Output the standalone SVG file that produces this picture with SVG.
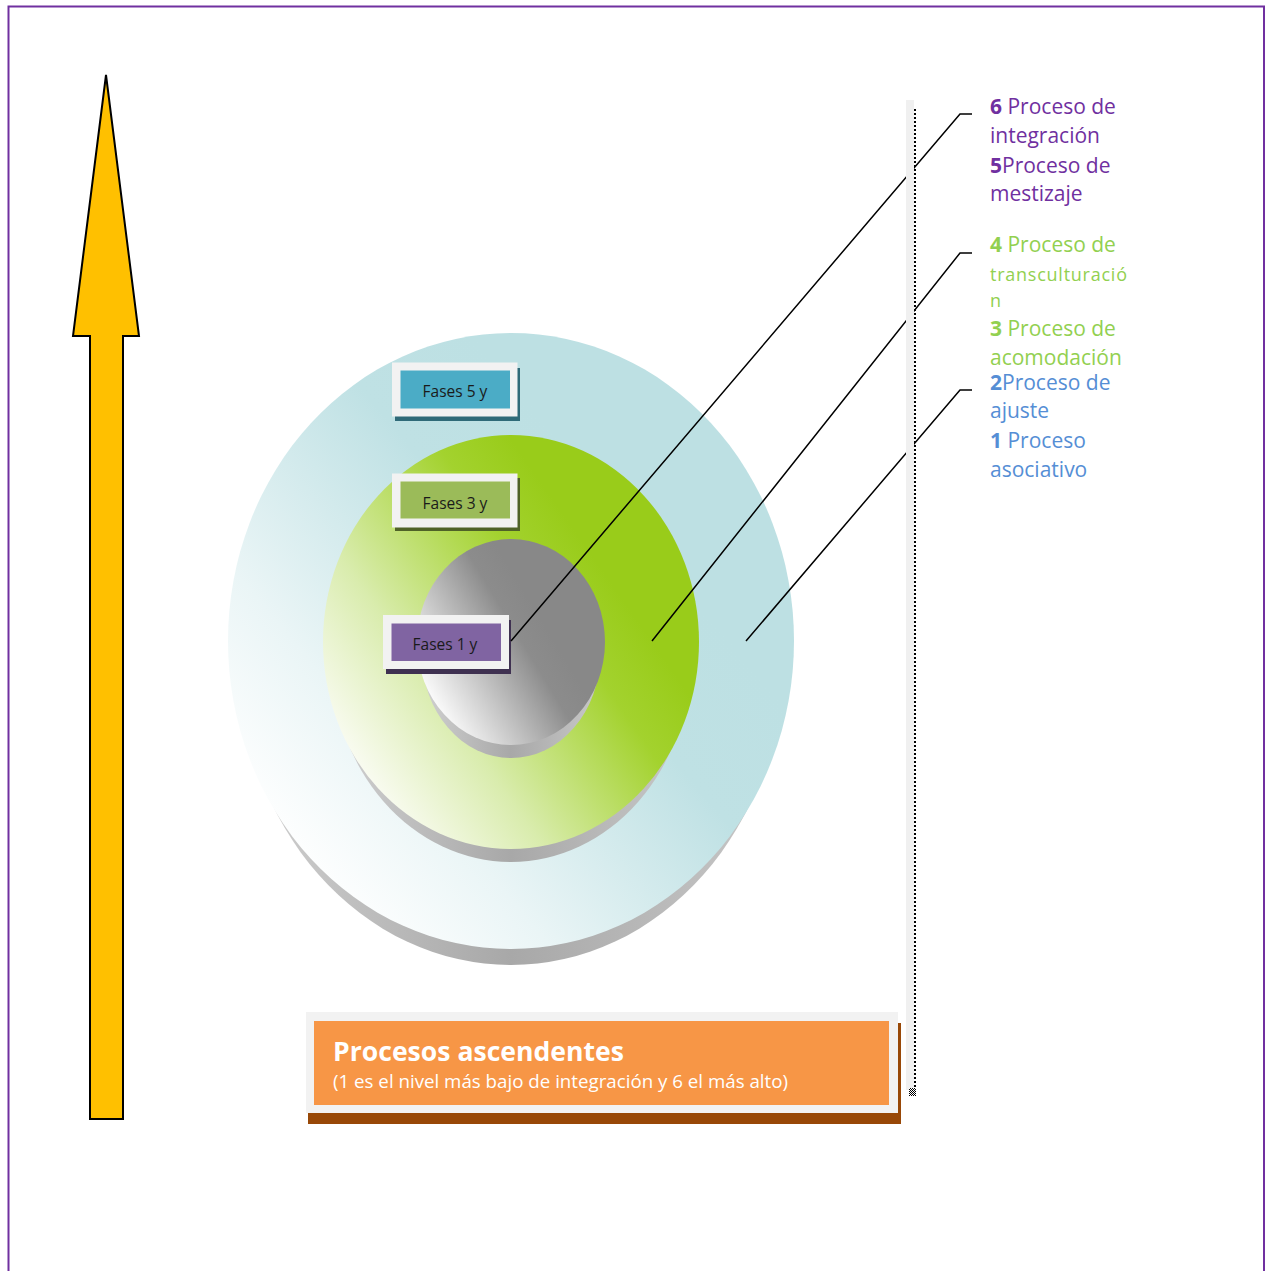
<svg xmlns="http://www.w3.org/2000/svg" width="1265" height="1271" viewBox="0 0 1265 1271">
<style>
.fr{fill:#f2f2f2}
.lt{font-family:"Open Sans","Liberation Sans",sans-serif;font-size:15.5px;fill:#1a1a1a;text-anchor:middle}
.rt{font-family:"Open Sans","Liberation Sans",sans-serif;font-size:21px}
.pu{fill:#7030a0}.gr{fill:#92d050}.bl{fill:#558ed5}
.b{font-weight:bold}
.con{stroke:#000;stroke-width:1.5;fill:none}
</style>
<defs>
<linearGradient id="gOuter" x1="0.15" y1="0.9" x2="0.75" y2="0.35">
<stop offset="0" stop-color="#ffffff"/><stop offset="0.3" stop-color="#eaf5f6"/><stop offset="0.75" stop-color="#bfe1e4"/><stop offset="1" stop-color="#bde0e3"/>
</linearGradient>
<linearGradient id="gMid" x1="0.15" y1="0.9" x2="0.8" y2="0.4">
<stop offset="0" stop-color="#fbfcf5"/><stop offset="0.35" stop-color="#d9ecad"/><stop offset="0.8" stop-color="#a3d22e"/><stop offset="1" stop-color="#99cc1a"/>
</linearGradient>
<linearGradient id="gIn" x1="0.1" y1="0.85" x2="0.7" y2="0.45">
<stop offset="0" stop-color="#ffffff"/><stop offset="0.3" stop-color="#d4d4d4"/><stop offset="0.8" stop-color="#8c8c8c"/><stop offset="1" stop-color="#888888"/>
</linearGradient>
<linearGradient id="gRim" x1="0" y1="0" x2="1" y2="0">
<stop offset="0" stop-color="#d0d0d0"/><stop offset="0.5" stop-color="#a8a8a8"/><stop offset="1" stop-color="#c8c8c8"/>
</linearGradient>
<pattern id="chk" width="2" height="2" patternUnits="userSpaceOnUse">
<rect width="2" height="2" fill="#fff"/><rect width="1" height="1" fill="#000"/><rect x="1" y="1" width="1" height="1" fill="#000"/>
</pattern>
</defs>
<rect x="8.5" y="6.5" width="1255.5" height="1300" fill="none" stroke="#7030a0" stroke-width="2"/>
<g id="arrow">
<polygon points="106,75 139,336 123,336 123,1119 90,1119 90,336 73,336" fill="#ffc000" stroke="#000" stroke-width="2" stroke-linejoin="miter"/>
</g>
<g id="disc-outer">
<ellipse cx="511" cy="657" rx="272" ry="308" fill="url(#gRim)"/>
<ellipse cx="511" cy="641" rx="283" ry="308" fill="url(#gOuter)"/>
</g>
<g id="disc-middle">
<ellipse cx="511" cy="656" rx="180" ry="206" fill="url(#gRim)"/>
<ellipse cx="511" cy="642" rx="188" ry="207" fill="url(#gMid)"/>
</g>
<g id="disc-inner">
<ellipse cx="511" cy="655" rx="89" ry="103" fill="url(#gRim)"/>
<ellipse cx="511" cy="642" rx="94" ry="103" fill="url(#gIn)"/>
</g>
<g id="label-5">
<rect x="395" y="368" width="125" height="53" fill="#2f6a78"/>
<rect class="fr" x="392" y="362.5" width="125.5" height="54"/>
<rect x="400.5" y="370.5" width="109.5" height="38" fill="#4bacc6"/>
<text class="lt" x="455" y="397">Fases 5 y</text>
</g>
<g id="label-3">
<rect x="395" y="478" width="125" height="53" fill="#4f6228"/>
<rect class="fr" x="392" y="473.5" width="125.5" height="54"/>
<rect x="400.5" y="481.5" width="109.5" height="37" fill="#9bbb59"/>
<text class="lt" x="455" y="509">Fases 3 y</text>
</g>
<g id="label-1">
<rect x="386" y="620" width="125" height="54" fill="#3f3151"/>
<rect class="fr" x="383" y="615" width="126" height="54"/>
<rect x="391.5" y="623.5" width="109.5" height="37.5" fill="#8064a2"/>
<text class="lt" x="445" y="650">Fases 1 y</text>
</g>
<g id="connectors">
<polyline class="con" points="511,641 960,114 972,114"/>
<polyline class="con" points="652,641 960,253 972,253"/>
<polyline class="con" points="746,641 960,390 972,390"/>
</g>
<g id="divider">
<rect x="906" y="100" width="8" height="990" fill="#f0f0f0"/>
<line x1="915" y1="109" x2="915" y2="1087" stroke="#000" stroke-width="2" stroke-dasharray="2 2"/>
<rect x="909" y="1088" width="7" height="8" fill="url(#chk)"/>
</g>
<g id="legend">
<text class="rt pu" x="990" y="114"><tspan class="b">6</tspan> Proceso de</text>
<text class="rt pu" x="990" y="143">integración</text>
<text class="rt pu" x="990" y="173"><tspan class="b">5</tspan>Proceso de</text>
<text class="rt pu" x="990" y="201">mestizaje</text>
<text class="rt gr" x="990" y="252"><tspan class="b">4</tspan> Proceso de</text>
<text class="rt gr" x="990" y="281" style="font-size:18px" textLength="137" lengthAdjust="spacing">transculturació</text>
<text class="rt gr" x="990" y="307" style="font-size:18px">n</text>
<text class="rt gr" x="990" y="336"><tspan class="b">3</tspan> Proceso de</text>
<text class="rt gr" x="990" y="365">acomodación</text>
<text class="rt bl" x="990" y="390"><tspan class="b">2</tspan>Proceso de</text>
<text class="rt bl" x="990" y="418">ajuste</text>
<text class="rt bl" x="990" y="448"><tspan class="b">1</tspan> Proceso</text>
<text class="rt bl" x="990" y="477">asociativo</text>
</g>
<g id="title-box">
<rect x="308" y="1023" width="593" height="101" fill="#984807"/>
<rect class="fr" x="306" y="1012" width="592" height="101"/>
<rect x="314" y="1021" width="575" height="84" fill="#f79646"/>
<text x="333" y="1061" font-family="'Open Sans','Liberation Sans',sans-serif" font-size="27" font-weight="bold" fill="#fff" textLength="291" lengthAdjust="spacingAndGlyphs">Procesos ascendentes</text>
<text x="333" y="1088" font-family="'Open Sans','Liberation Sans',sans-serif" font-size="17.5" fill="#fff" textLength="455" lengthAdjust="spacingAndGlyphs">(1 es el nivel más bajo de integración y 6 el más alto)</text>
</g>
</svg>
